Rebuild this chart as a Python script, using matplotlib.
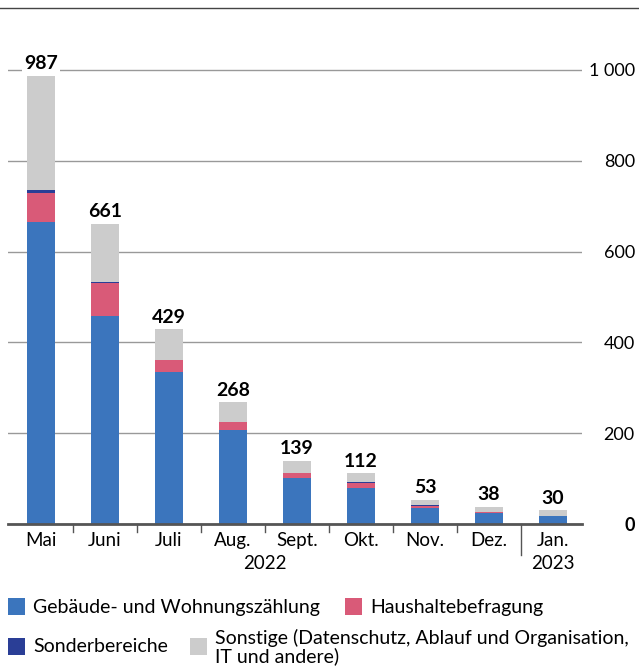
import matplotlib.pyplot as plt
from matplotlib.lines import Line2D
from matplotlib.patches import Rectangle
import numpy as np

plt.rcParams["font.family"] = ["Lato", "DejaVu Sans"]

months = ["Mai", "Juni", "Juli", "Aug.", "Sept.", "Okt.", "Nov.", "Dez.", "Jan."]
totals = [987, 661, 429, 268, 139, 112, 53, 38, 30]
gebaeude = [665, 458, 335, 208, 101, 79, 35, 24, 18]
haushalte = [64, 73, 26, 16, 11, 11, 4, 3, 0]
sonder = [6, 2, 1, 0, 0, 3, 3, 0, 0]
sonstige = [t - g - h - s for t, g, h, s in zip(totals, gebaeude, haushalte, sonder)]
yticks = [0, 200, 400, 600, 800, 1000]
ytick_labels = ["0", "200", "400", "600", "800", "1 000"]

c_blue = "#3b75bd"
c_pink = "#d95a78"
c_dark = "#2a3e96"
c_gray = "#cccccc"

W, H = 639, 666
fig = plt.figure(figsize=(W / 100, H / 100), dpi=100)

# axes in pixel coords
left, right, top, base = 8, 582, 8, 524
ax = fig.add_axes([left / W, 1 - base / H, (right - left) / W, (base - top) / H])

x = np.arange(len(months))
bw = 0.45
bottom = np.zeros(len(months))
for vals, col in [(gebaeude, c_blue), (haushalte, c_pink), (sonder, c_dark), (sonstige, c_gray)]:
    ax.bar(x, vals, bw, bottom=bottom, color=col, zorder=3)
    bottom += np.array(vals)

for xi, t in zip(x, totals):
    ax.text(xi, t + 8, str(t), ha="center", va="bottom", fontsize=14, fontweight="bold",
            zorder=4, bbox=dict(facecolor="white", edgecolor="none", pad=1.5))

ax.set_xlim(-0.516, (right - 41) / 64)
ax.set_ylim(0, (base - top) / 0.454)

ax.set_yticks(yticks)
ax.set_yticklabels(ytick_labels)
ax.yaxis.tick_right()
ax.tick_params(axis="y", length=0, pad=38, labelsize=13)
for lbl in ax.get_yticklabels():
    lbl.set_horizontalalignment("right")
ax.get_yticklabels()[0].set_fontweight("bold")
ax.grid(axis="y", color="#999999", lw=1, zorder=1)

ax.set_xticks(x)
ax.set_xticklabels(months)
ax.tick_params(axis="x", length=0, pad=6, labelsize=13.5)

for s in ["top", "left", "right"]:
    ax.spines[s].set_visible(False)
ax.spines["bottom"].set_color("#555555")
ax.spines["bottom"].set_linewidth(2)
ax.spines["bottom"].set_zorder(5)

# separators under axis
for b in x[:-1] + 0.5:
    length = 0.06 if b == 7.5 else 0.015
    ax.plot([b, b], [0, -length], transform=ax.get_xaxis_transform(), color="#555555",
            lw=1, clip_on=False)

ax.text(3.5, -0.076, "2022", transform=ax.get_xaxis_transform(), ha="center", va="center",
        fontsize=13.5)
ax.text(8, -0.076, "2023", transform=ax.get_xaxis_transform(), ha="center", va="center",
        fontsize=13.5)

# top rule
fig.add_artist(Line2D([0, 1], [1 - 8 / H, 1 - 8 / H], color="#444444", lw=1))

# legend
def legend_item(px, py, color, text):
    fig.add_artist(Rectangle((px / W, 1 - (py + 17) / H), 17 / W, 17 / H,
                             facecolor=color, edgecolor="none"))
    fig.text((px + 25) / W, 1 - (py + 9) / H, text, ha="left", va="center", fontsize=14,
             linespacing=1.05)

legend_item(8, 598, c_blue, "Gebäude- und Wohnungszählung")
legend_item(345, 598, c_pink, "Haushaltebefragung")
legend_item(8, 638, c_dark, "Sonderbereiche")
legend_item(190, 638, c_gray, "Sonstige (Datenschutz, Ablauf und Organisation,\nIT und andere)")

fig.savefig("out.png", dpi=100)
